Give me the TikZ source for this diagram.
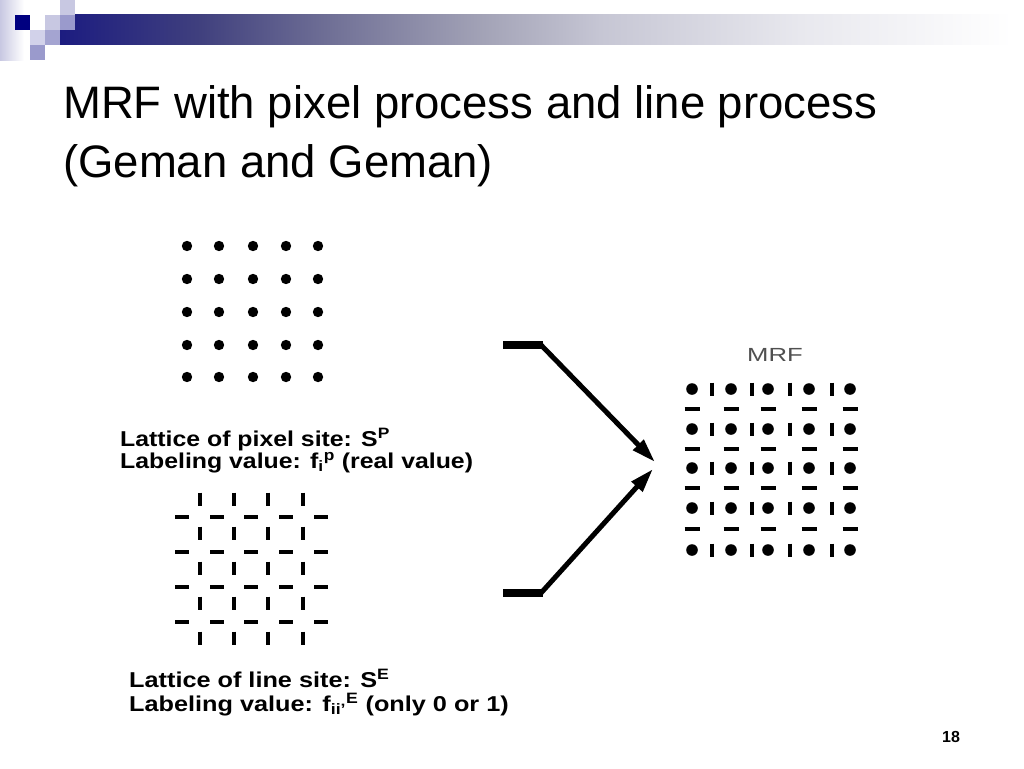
\documentclass[tikz,border=0pt]{standalone}
\usepackage{fontspec}
\usepackage{graphicx}
\setmainfont{Liberation Sans}
\usetikzlibrary{arrows.meta}
\definecolor{navy}{HTML}{000080}
\definecolor{lav}{HTML}{C8C8E2}
\definecolor{lav2}{HTML}{D2D2EA}
\definecolor{mid}{HTML}{9A9ACC}
\definecolor{b0}{HTML}{1C1C80}
\definecolor{b1}{HTML}{40407E}
\definecolor{b2}{HTML}{707096}
\definecolor{b3}{HTML}{A2A2B6}
\definecolor{b4}{HTML}{C6C6D4}
\definecolor{b5}{HTML}{E8E8EE}
\definecolor{mrfgray}{HTML}{505050}
\tikzset{
  titletext/.style={anchor=base west, inner sep=0pt, align=left, font=\fontsize{45.5}{59}\selectfont},
  lbl/.style={anchor=base west, inner sep=0pt, align=left, font=\fontsize{21.5}{22}\bfseries\selectfont},
  pdot/.style={fill=black},
  vtick/.style={draw=black, line width=3.6pt},
  htick/.style={draw=black, line width=3.6pt},
  mvtick/.style={draw=black, line width=4pt},
  mhtick/.style={draw=black, line width=4.5pt},
  bar/.style={draw=black, line width=7.5pt},
  arr/.style={draw=black, line width=5pt, -{Triangle[length=24pt,width=14pt]}}
}
\begin{document}
\begin{tikzpicture}[x=1pt,y=-1pt]
\useasboundingbox (0,0) rectangle (1024,768);
\fill[white] (0,0) rectangle (1024,768);
% decoration
\shade[left color=lav, right color=white] (0,0) rectangle (24,60);
\shade[left color=b0, right color=b1] (60,15) rectangle (200.5,45);
\shade[left color=b1, right color=b2] (200,15) rectangle (330.5,45);
\shade[left color=b2, right color=b3] (330,15) rectangle (480.5,45);
\shade[left color=b3, right color=b4] (480,15) rectangle (600.5,45);
\shade[left color=b4, right color=b5] (600,15) rectangle (800.5,45);
\shade[left color=b5, right color=white] (800,15) rectangle (1012,45);
\fill[navy] (15,15) rectangle (30,30);
\fill[lav] (45,15) rectangle (60,30);
\fill[mid] (60,15) rectangle (75,30);
\fill[lav] (60,0) rectangle (75,15);
\fill[lav2] (30,30) rectangle (45,45);
\fill[mid!90!white] (45,30) rectangle (60,45);
\fill[mid] (30,45) rectangle (45,60);
% title
\node[titletext] (title) at (63,177) {MRF with pixel process and line process\\(Geman and Geman)};
% pixel lattice
\foreach \x in {187,219,253,286,318}
  \foreach \y in {246,279,312,345,377}
    \fill[pdot] (\x,\y) circle (5.2);
% line lattice
\foreach \x in {200,234,268,303}
  \foreach \y in {499,533,568,603,638}
    \draw[vtick] (\x,\y-6.5) -- (\x,\y+6.5);
\foreach \x in {182,217,251,286,321}
  \foreach \y in {517,552,587,622}
    \draw[htick] (\x-7,\y) -- (\x+7,\y);
% MRF lattice
\node[font=\fontsize{19}{19}\selectfont, text=mrfgray, inner sep=0pt] (mrf) at (775,355) {\scalebox{1.35}[1]{MRF}};
\foreach \x in {692,731,768,809,850}
  \foreach \y in {389,429,468,508,550}
    \fill[pdot] (\x,\y) circle (5.8);
\foreach \x in {712,752,790,832}
  \foreach \y in {389,429,468,508,550}
    \draw[mvtick] (\x,\y-6.5) -- (\x,\y+6.5);
\foreach \x in {692,731,768,809,850}
  \foreach \y in {409,449,488,529}
    \draw[mhtick] (\x-7.5,\y) -- (\x+7.5,\y);
% arrows
\coordinate (u0) at (503,345);
\coordinate (u1) at (543,345);
\coordinate (tip1) at (655,462);
\coordinate (l0) at (503,593);
\coordinate (l1) at (543,593);
\coordinate (tip2) at (653,469);
\draw[bar] (u0) -- (u1);
\draw[bar] (l0) -- (l1);
\draw[arr] ([xshift=-2pt]u1) -- (tip1);
\draw[arr] ([xshift=-2pt]l1) -- (tip2);
% labels
\node[lbl] (pl) at (120,468) {\scalebox{1.155}[1]{Lattice of pixel site: S\textsuperscript{P}}\\
  \scalebox{1.155}[1]{Labeling value: f\textsubscript{i}\textsuperscript{p} (real value)}};
\node[lbl, font=\fontsize{21.5}{24}\bfseries\selectfont] (ll) at (129,711) {\scalebox{1.175}[1]{Lattice of line site: S\textsuperscript{E}}\\
  \scalebox{1.175}[1]{Labeling value: f\textsubscript{ii'}\textsuperscript{E} (only 0 or 1)}};
\node[anchor=base, inner sep=0pt, font=\fontsize{16}{16}\bfseries\selectfont] (pg) at (951,742) {18};
\end{tikzpicture}
\end{document}
